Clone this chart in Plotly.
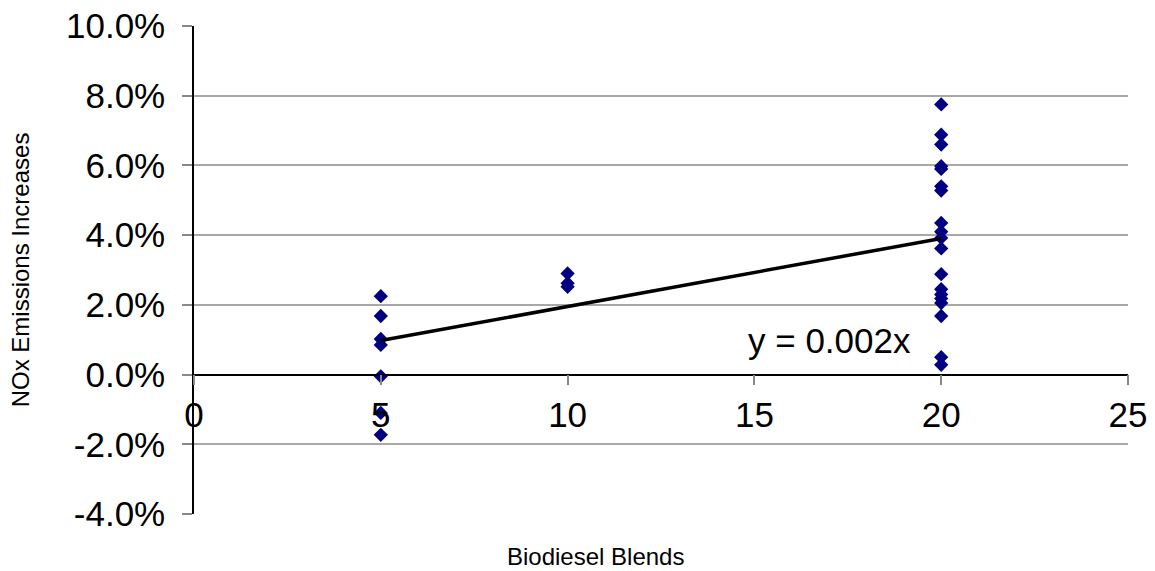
import numpy as np
import plotly.graph_objects as go

# Data (NOx change in percent)
blend_5 = [5] * 7
nox_5 = [2.25, 1.68, 1.02, 0.85, -0.05, -1.10, -1.73]
blend_10 = [10] * 3
nox_10 = [2.90, 2.62, 2.52]
blend_20 = [20] * 19
nox_20 = [7.75, 6.88, 6.60, 5.98, 5.90, 5.40, 5.28, 4.35, 4.10, 3.92, 3.62,
          2.88, 2.45, 2.30, 2.18, 2.05, 1.68, 0.50, 0.28]

x_ticks = [0, 5, 10, 15, 20, 25]
y_ticks = [-0.04, -0.02, 0.0, 0.02, 0.04, 0.06, 0.08, 0.10]
y_ticklabels = ["-4.0%", "-2.0%", "0.0%", "2.0%", "4.0%", "6.0%", "8.0%", "10.0%"]
grid_vals = [-0.02, 0.02, 0.04, 0.06, 0.08]
equation_label = "y = 0.002x"

blends = np.array(blend_5 + blend_10 + blend_20, dtype=float)
nox = np.array(nox_5 + nox_10 + nox_20) / 100.0

# Linear trendline through origin (least squares)
slope = float(np.sum(blends * nox) / np.sum(blends * blends))
line_x = np.array([blends.min(), blends.max()])
line_y = slope * line_x

FONT = "Liberation Sans, Arial, sans-serif"

fig = go.Figure()
fig.add_trace(go.Scatter(
    x=blends, y=nox, mode="markers",
    marker=dict(symbol="diamond", size=11, color="#000080",
                line=dict(width=0)),
    showlegend=False, hoverinfo="x+y"))
fig.add_trace(go.Scatter(
    x=line_x, y=line_y, mode="lines",
    line=dict(color="black", width=3.5),
    showlegend=False, hoverinfo="skip"))
# invisible trace for grid axis
fig.add_trace(go.Scatter(x=[0], y=[0], yaxis="y2", mode="markers",
                         marker=dict(opacity=0), showlegend=False,
                         hoverinfo="skip"))

fig.update_layout(
    width=1155, height=571,
    margin=dict(l=194, r=27, t=26, b=57),
    paper_bgcolor="white", plot_bgcolor="white",
    font=dict(family=FONT, color="black"),
    xaxis=dict(
        range=[0, 25], tickvals=x_ticks, ticktext=[str(v) for v in x_ticks],
        showgrid=False, zeroline=False, automargin=False,
        anchor="free", position=4 / 14,
        showline=True, linecolor="black", linewidth=1.5,
        ticks="outside", ticklen=10, tickcolor="#888888", tickwidth=1.5,
        tickfont=dict(size=35, family=FONT, color="black"),
        ticklabelstandoff=0,
    ),
    yaxis=dict(
        range=[-0.04, 0.10], tickvals=y_ticks, ticktext=y_ticklabels,
        showgrid=False, zeroline=False, automargin=False,
        showline=True, linecolor="black", linewidth=1.5,
        ticks="outside", ticklen=10, tickcolor="#888888", tickwidth=1.5,
        tickfont=dict(size=35, family=FONT, color="black"),
        ticklabelstandoff=10,
        title=dict(text="NOx Emissions Increases",
                   font=dict(size=24, family=FONT, color="black"),
                   standoff=30),
    ),
    yaxis2=dict(
        range=[-0.04, 0.10], overlaying="y", side="right", automargin=False,
        tickvals=grid_vals, showticklabels=False, ticks="",
        showgrid=True, gridcolor="#a8a8a8", gridwidth=1.5,
        zeroline=False, showline=False, layer="below traces",
    ),
    annotations=[
        dict(text=equation_label, x=17.0, y=0.0099, xref="x", yref="y",
             showarrow=False, xanchor="center", yanchor="middle",
             font=dict(size=35, family=FONT, color="black")),
        dict(text="Biodiesel Blends", x=0.4304, y=-0.088,
             xref="paper", yref="paper", showarrow=False,
             xanchor="center", yanchor="middle",
             font=dict(size=24, family=FONT, color="black")),
    ],
)

fig.write_html("out.html",
               config={"displayModeBar": False},
               post_script="document.body.style.margin='0';"
                           "document.body.style.overflow='hidden';")
